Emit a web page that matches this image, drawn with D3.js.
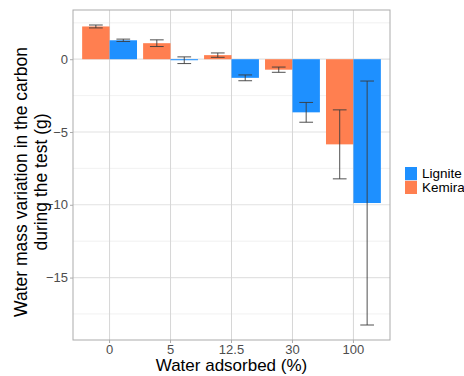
<!DOCTYPE html>
<html><head><meta charset="utf-8">
<script src="https://cdn.jsdelivr.net/npm/d3@7"></script>
<style>body{margin:0;background:#fff;}svg{display:block;}text{font-family:"Liberation Sans",Arial,sans-serif;}</style>
</head><body>
<script>
const categories = ["0", "5", "12.5", "30", "100"];
const series = ["Kemira", "Lignite"];
const legendOrder = ["Lignite", "Kemira"];
const kemiraMean = [2.25, 1.10, 0.28, -0.72, -5.85];
const kemiraErr = [0.10, 0.23, 0.15, 0.18, 2.37];
const ligniteMean = [1.30, -0.07, -1.28, -3.65, -9.88];
const ligniteErr = [0.08, 0.23, 0.20, 0.68, 8.38];
const yMajor = [0, -5, -10, -15];
const yMinor = [2.5, -2.5, -7.5, -12.5, -17.5];
const colors = {Lignite: "#1E90FF", Kemira: "#FF7F50"};

const W = 464, H = 376;
const P = {l: 73, r: 390, t: 10, b: 340};
const svg = d3.select("body").append("svg").attr("width", W).attr("height", H);

const rows = [];
categories.forEach((c, i) => {
  rows.push({cat: c, s: "Kemira", v: kemiraMean[i], e: kemiraErr[i]});
  rows.push({cat: c, s: "Lignite", v: ligniteMean[i], e: ligniteErr[i]});
});
const lo = d3.min(rows, d => Math.min(d.v - d.e, 0));
const hi = d3.max(rows, d => Math.max(d.v + d.e, 0));
const pad = (hi - lo) * 0.05;

const x = d3.scaleBand().domain(categories).range([P.l, P.r]).paddingInner(0).paddingOuter(0.1);
const step = x.step();
const x1 = d3.scaleBand().domain(series).range([0.05 * step, 0.95 * step]);
const y = d3.scaleLinear().domain([lo - pad, hi + pad]).range([P.b, P.t]);

const g = svg.append("g");
// grid
g.selectAll(".ymin").data(yMinor).join("line")
  .attr("x1", P.l).attr("x2", P.r).attr("y1", d => y(d)).attr("y2", d => y(d))
  .attr("stroke", "#eeeeee").attr("stroke-width", 0.8);
g.selectAll(".ymaj").data(yMajor).join("line")
  .attr("x1", P.l).attr("x2", P.r).attr("y1", d => y(d)).attr("y2", d => y(d))
  .attr("stroke", "#e2e2e2").attr("stroke-width", 1.2);
g.selectAll(".xmaj").data(categories).join("line")
  .attr("x1", d => x(d) + step / 2).attr("x2", d => x(d) + step / 2).attr("y1", P.t).attr("y2", P.b)
  .attr("stroke", "#d6d6d6").attr("stroke-width", 1);

// bars
g.selectAll(".bar").data(rows).join("rect")
  .attr("x", d => x(d.cat) + x1(d.s))
  .attr("width", x1.bandwidth())
  .attr("y", d => y(Math.max(0, d.v)))
  .attr("height", d => Math.max(0.8, Math.abs(y(d.v) - y(0))))
  .attr("fill", d => colors[d.s]);

// error bars
const capW = x1.bandwidth() * 0.25;
const eb = g.selectAll(".eb").data(rows).join("g")
  .attr("transform", d => `translate(${x(d.cat) + x1(d.s) + x1.bandwidth() / 2},0)`)
  .attr("stroke", "#3c3c3c").attr("stroke-width", 0.9);
eb.append("line").attr("x1", 0).attr("x2", 0).attr("y1", d => y(d.v + d.e)).attr("y2", d => y(d.v - d.e));
eb.append("line").attr("x1", -capW).attr("x2", capW).attr("y1", d => y(d.v + d.e)).attr("y2", d => y(d.v + d.e));
eb.append("line").attr("x1", -capW).attr("x2", capW).attr("y1", d => y(d.v - d.e)).attr("y2", d => y(d.v - d.e));

// border
svg.append("rect").attr("x", P.l).attr("y", P.t).attr("width", P.r - P.l).attr("height", P.b - P.t)
  .attr("fill", "none").attr("stroke", "#ababab").attr("stroke-width", 1);

// axes
const xAxis = svg.append("g").attr("transform", `translate(0,${P.b})`)
  .call(d3.axisBottom(x).tickSize(3).tickPadding(1.5));
xAxis.select(".domain").remove();
xAxis.selectAll("line").attr("stroke", "#ababab");
xAxis.selectAll("text").attr("fill", "#4d4d4d").style("font-size", "13px");

const yAxis = svg.append("g").attr("transform", `translate(${P.l},0)`)
  .call(d3.axisLeft(y).tickValues(yMajor).tickFormat(d3.format("d")).tickSize(3).tickPadding(2));
yAxis.select(".domain").remove();
yAxis.selectAll("line").attr("stroke", "#ababab");
yAxis.selectAll("text").attr("fill", "#4d4d4d").style("font-size", "13px");

// titles
svg.append("text").attr("x", (P.l + P.r) / 2).attr("y", 371).attr("text-anchor", "middle")
  .style("font-size", "17px").attr("fill", "#000").text("Water adsorbed (%)");
const yt = svg.append("text").attr("transform", `translate(27,182) rotate(-90)`)
  .attr("text-anchor", "middle").style("font-size", "17.5px").attr("fill", "#000");
yt.append("tspan").attr("x", 0).attr("dy", 0).text("Water mass variation in the carbon");
yt.append("tspan").attr("x", 0).attr("dy", 20).text("during the test (g)");

// legend
const lg = svg.append("g").attr("transform", "translate(405,167)");
legendOrder.forEach((s, i) => {
  lg.append("rect").attr("x", 0).attr("y", i * 13.8).attr("width", 12).attr("height", 13.2)
    .attr("fill", colors[s]);
  lg.append("text").attr("x", 17).attr("y", i * 13.8 + 6.6).attr("dy", "0.35em")
    .style("font-size", "13.5px").attr("fill", "#000").text(s);
});
</script>
</body></html>
